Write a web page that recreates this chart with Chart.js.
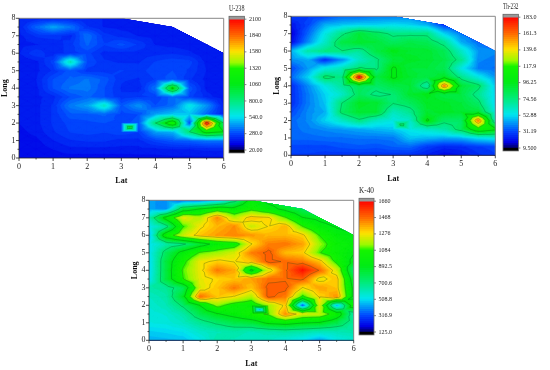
<!DOCTYPE html>
<html>
<head>
<meta charset="utf-8">
<script src="https://cdn.jsdelivr.net/npm/chart.js@4"></script>
<style>
    body { margin: 0; background: #fff; }
    canvas { position: absolute; }
</style>
</head>
<body>
<canvas id="u238Map"></canvas><canvas id="u238Bar"></canvas>
<canvas id="th232Map"></canvas><canvas id="th232Bar"></canvas>
<canvas id="k40Map"></canvas><canvas id="k40Bar"></canvas>
<script>
// Griglia di misura: colonne = Lat, righe = Long (dall'alto verso il basso)
const latValues = [0, 0.5, 1, 1.5, 2, 2.5, 3, 3.5, 4, 4.5, 5, 5.5, 6];
const longValues = [8, 7.5, 7, 6.5, 6, 5.5, 5, 4.5, 4, 3.5, 3, 2.5, 2, 1.5, 1, 0.5, 0];

// Bordo dell'area misurata
const hullLat = [0, 6, 6, 4.5, 3, 0];
const hullLong = [0, 0, 6, 7.5, 8, 8];

// Punto extra fuori griglia
const spotLat = 3.25;
const spotLong = 1.75;

const u238Ticks = [20, 280, 540, 800, 1060, 1320, 1580, 1840, 2100];
const u238Labels = ['20.00', '280.0', '540.0', '800.0', '1060', '1320', '1580', '1840', '2100'];
const u238Spot = 1000;
const u238Grid = [
    [180, 180, 180, 180, 180, 180, 180, 180, 170, 170, 150, 150, 150],
    [180, 320, 430, 350, 220, 180, 170, 170, 170, 170, 150, 150, 150],
    [170, 220, 230, 200, 340, 230, 200, 180, 170, 170, 160, 150, 150],
    [170, 180, 190, 230, 320, 250, 290, 240, 180, 170, 160, 150, 150],
    [180, 240, 190, 230, 260, 200, 200, 200, 200, 210, 190, 150, 150],
    [150, 170, 260, 640, 280, 220, 210, 210, 250, 270, 260, 170, 150],
    [150, 170, 220, 300, 230, 230, 250, 230, 270, 280, 240, 180, 170],
    [150, 180, 280, 320, 350, 300, 220, 210, 250, 300, 220, 170, 150],
    [150, 170, 280, 350, 360, 280, 210, 190, 350, 1100, 300, 170, 150],
    [150, 170, 200, 280, 320, 280, 220, 240, 250, 330, 260, 200, 150],
    [150, 170, 220, 360, 420, 620, 300, 400, 280, 330, 560, 400, 180],
    [150, 170, 220, 300, 300, 320, 260, 280, 420, 480, 480, 320, 170],
    [150, 170, 220, 260, 270, 280, 270, 290, 800, 1250, 280, 2000, 800],
    [140, 160, 210, 250, 260, 250, 270, 250, 420, 450, 800, 1150, 1050],
    [130, 140, 180, 210, 220, 220, 200, 200, 260, 300, 320, 350, 350],
    [120, 130, 150, 170, 170, 170, 170, 170, 170, 180, 180, 190, 190],
    [120, 120, 130, 130, 130, 130, 130, 135, 135, 140, 140, 140, 140]
];

const th232Ticks = [9.5, 31.19, 52.88, 74.56, 96.25, 117.9, 139.6, 161.3, 183];
const th232Labels = ['9.500', '31.19', '52.88', '74.56', '96.25', '117.9', '139.6', '161.3', '183.0'];
const th232Spot = 80;
const th232Grid = [
    [28, 28, 30, 35, 35, 38, 38, 40, 35, 30, 28, 28, 28],
    [20, 30, 45, 48, 50, 50, 52, 50, 45, 28, 30, 32, 30],
    [15, 35, 55, 72, 88, 80, 72, 72, 72, 50, 38, 36, 34],
    [18, 40, 60, 85, 90, 88, 80, 85, 82, 70, 45, 36, 34],
    [45, 65, 72, 74, 68, 85, 95, 90, 90, 82, 60, 42, 40],
    [40, 45, 25, 40, 60, 72, 88, 92, 90, 85, 70, 40, 38],
    [30, 42, 55, 62, 76, 72, 98, 88, 88, 82, 55, 38, 36],
    [35, 50, 78, 72, 178, 85, 98, 90, 85, 92, 70, 55, 42],
    [25, 40, 55, 68, 82, 78, 85, 88, 65, 155, 88, 78, 48],
    [25, 38, 50, 60, 80, 72, 75, 90, 95, 85, 85, 70, 50],
    [25, 38, 48, 75, 92, 90, 75, 80, 92, 92, 88, 78, 50],
    [30, 40, 45, 78, 90, 88, 62, 70, 90, 92, 90, 88, 55],
    [35, 40, 50, 60, 72, 60, 55, 60, 98, 78, 78, 155, 62],
    [35, 38, 40, 42, 44, 46, 48, 55, 60, 65, 80, 110, 100],
    [35, 35, 36, 36, 37, 37, 38, 48, 46, 44, 45, 52, 55],
    [30, 30, 30, 32, 33, 32, 34, 35, 28, 24, 25, 28, 30],
    [28, 28, 27, 26, 26, 26, 26, 25, 22, 18, 20, 25, 28]
];

const k40Ticks = [125, 316.9, 508.8, 700.6, 892.5, 1084, 1276, 1468, 1660];
const k40Labels = ['125.0', '316.9', '508.8', '700.6', '892.5', '1084', '1276', '1468', '1660'];
const k40Spot = 350;
const k40Grid = [
    [420, 400, 350, 350, 430, 650, 950, 850, 800, 760, 760, 760, 760],
    [420, 400, 800, 900, 1000, 950, 1050, 950, 850, 760, 720, 760, 760],
    [600, 950, 1240, 1180, 1400, 1180, 1320, 1290, 1100, 900, 850, 800, 780],
    [500, 650, 1080, 1260, 1340, 1400, 1200, 1280, 1340, 1090, 950, 880, 850],
    [450, 1000, 1200, 1320, 1380, 1420, 1380, 1340, 1340, 1300, 1080, 950, 900],
    [500, 620, 680, 820, 950, 1000, 1270, 1420, 1440, 1370, 1150, 1000, 950],
    [500, 750, 950, 1100, 1150, 1220, 1420, 1490, 1330, 1300, 1090, 1000, 900],
    [480, 800, 1050, 1250, 1300, 1270, 1320, 1490, 1460, 1430, 1320, 1050, 850],
    [480, 800, 1100, 1250, 1430, 1360, 850, 1220, 1460, 1620, 1460, 1220, 700],
    [500, 800, 1080, 1240, 1290, 1320, 1370, 1450, 1460, 1480, 1240, 1320, 800],
    [620, 650, 760, 1220, 1320, 1430, 1320, 1490, 1490, 1270, 1370, 1320, 850],
    [580, 620, 850, 1440, 1320, 1270, 1170, 1490, 1430, 1060, 1290, 1390, 850],
    [560, 600, 720, 900, 1130, 1020, 980, 1150, 1300, 300, 1220, 420, 1000],
    [540, 560, 620, 780, 880, 950, 1040, 1100, 1390, 1210, 1190, 1000, 620],
    [530, 540, 580, 650, 720, 780, 810, 920, 950, 900, 880, 780, 640],
    [480, 490, 510, 570, 600, 620, 600, 620, 640, 620, 590, 600, 620],
    [440, 450, 460, 520, 620, 600, 580, 580, 540, 500, 420, 520, 560]
];

// Scala colori della barra (frazione, r, g, b)
const colorStops = [
    [0, 0, 0, 110], [0.04, 0, 0, 230], [0.125, 0, 75, 255], [0.25, 0, 230, 240],
    [0.375, 0, 235, 120], [0.5, 0, 235, 20], [0.62, 20, 245, 0], [0.66, 150, 250, 0],
    [0.75, 255, 225, 0], [0.875, 255, 100, 0], [1, 255, 0, 0]
];
const levelCount = 64;

function colorAt(t) {
    for (let i = 1; i < colorStops.length; i++) {
        const a = colorStops[i - 1], b = colorStops[i];
        if (t <= b[0]) {
            const f = (t - a[0]) / (b[0] - a[0]);
            return `rgb(${a[1] + (b[1] - a[1]) * f}, ${a[2] + (b[2] - a[2]) * f}, ${a[3] + (b[3] - a[3]) * f})`;
        }
    }
    return 'rgb(255, 0, 0)';
}

// Parte del triangolo con valore >= level
function clipTriangle(tri, level) {
    const out = [];
    for (let i = 0; i < 3; i++) {
        const p = tri[i], q = tri[(i + 1) % 3];
        if (p.v >= level) out.push(p);
        if ((p.v >= level) !== (q.v >= level)) {
            const f = (level - p.v) / (q.v - p.v);
            out.push({ x: p.x + (q.x - p.x) * f, y: p.y + (q.y - p.y) * f, v: level });
        }
    }
    return out;
}

function buildTriangles(chart, grid, spot) {
    const sx = chart.scales.x, sy = chart.scales.y;
    const node = (lat, lon, v) => ({ x: sx.getPixelForValue(lat), y: sy.getPixelForValue(lon), v: v });
    const tris = [];
    for (let r = 0; r < longValues.length - 1; r++) {
        for (let c = 0; c < latValues.length - 1; c++) {
            const a = node(latValues[c], longValues[r], grid[r][c]);
            const b = node(latValues[c + 1], longValues[r], grid[r][c + 1]);
            const d = node(latValues[c + 1], longValues[r + 1], grid[r + 1][c + 1]);
            const e = node(latValues[c], longValues[r + 1], grid[r + 1][c]);
            const midLat = (latValues[c] + latValues[c + 1]) / 2;
            const midLong = (longValues[r] + longValues[r + 1]) / 2;
            const isSpot = midLat === spotLat && midLong === spotLong;
            const m = node(midLat, midLong, isSpot ? spot : (a.v + b.v + d.v + e.v) / 4);
            tris.push([a, b, m], [b, d, m], [d, e, m], [e, a, m]);
        }
    }
    return tris;
}

function contourPlugin(grid, ticks, spot) {
    return {
        id: 'contour',
        beforeDatasetsDraw(chart) {
            const ctx = chart.ctx, sx = chart.scales.x, sy = chart.scales.y;
            const lo = ticks[0], hi = ticks[ticks.length - 1];
            const tris = buildTriangles(chart, grid, spot);
            const addPoly = poly => {
                if (poly.length < 3) return;
                ctx.moveTo(poly[0].x, poly[0].y);
                poly.slice(1).forEach(p => ctx.lineTo(p.x, p.y));
                ctx.closePath();
            };

            ctx.save();
            ctx.beginPath();
            hullLat.forEach((lat, i) => ctx.lineTo(sx.getPixelForValue(lat), sy.getPixelForValue(hullLong[i])));
            ctx.closePath();
            ctx.clip();

            ctx.lineWidth = 0.5;
            for (let i = 0; i < levelCount; i++) {
                const level = i === 0 ? -1e9 : lo + (hi - lo) * i / levelCount;
                ctx.fillStyle = ctx.strokeStyle = colorAt((i + 0.5) / levelCount);
                ctx.beginPath();
                tris.forEach(t => addPoly(clipTriangle(t, level)));
                ctx.fill();
                ctx.stroke();
            }

            // Isolinee sui valori della barra
            ctx.strokeStyle = 'rgba(0, 70, 30, 0.45)';
            ctx.lineWidth = 0.6;
            ctx.beginPath();
            ticks.slice(3, 8).forEach(level => {
                tris.forEach(t => {
                    const cut = [];
                    for (let i = 0; i < 3; i++) {
                        const p = t[i], q = t[(i + 1) % 3];
                        if ((p.v >= level) !== (q.v >= level)) {
                            const f = (level - p.v) / (q.v - p.v);
                            cut.push([p.x + (q.x - p.x) * f, p.y + (q.y - p.y) * f]);
                        }
                    }
                    if (cut.length === 2) {
                        ctx.moveTo(cut[0][0], cut[0][1]);
                        ctx.lineTo(cut[1][0], cut[1][1]);
                    }
                });
            });
            ctx.stroke();
            ctx.restore();
        },
        afterDatasetsDraw(chart) {
            const ctx = chart.ctx, a = chart.chartArea, sx = chart.scales.x, sy = chart.scales.y;
            ctx.save();
            ctx.strokeStyle = '#888';
            ctx.lineWidth = 1;
            ctx.beginPath();
            ctx.moveTo(a.left, a.top);
            ctx.lineTo(a.right, a.top);
            ctx.lineTo(a.right, a.bottom);
            ctx.stroke();

            ctx.strokeStyle = '#222';
            ctx.lineWidth = 0.8;
            ctx.beginPath();
            ctx.moveTo(a.left, a.top);
            ctx.lineTo(a.left, a.bottom);
            ctx.lineTo(a.right, a.bottom);
            for (let i = 0; i <= 12; i++) {
                const px = sx.getPixelForValue(i / 2);
                ctx.moveTo(px, a.bottom);
                ctx.lineTo(px, a.bottom + (i % 2 ? 1.5 : 3));
            }
            for (let i = 0; i <= 16; i++) {
                const py = sy.getPixelForValue(i / 2);
                ctx.moveTo(a.left, py);
                ctx.lineTo(a.left - (i % 2 ? 1.5 : 3), py);
            }
            ctx.stroke();
            ctx.restore();
        }
    };
}

function drawMap(id, box, grid, ticks, spot) {
    const canvas = document.getElementById(id);
    const left = box.x0 - 19, top = Math.floor(box.top) - 6;
    const width = Math.ceil(box.x1 - left) + 8, height = Math.ceil(box.bottom - top) + 28;
    canvas.style.left = left + 'px';
    canvas.style.top = top + 'px';
    canvas.width = width;
    canvas.height = height;

    const points = [];
    longValues.forEach((lon, r) => latValues.forEach((lat, c) => points.push({ x: lat, y: lon, v: grid[r][c] })));
    const tickFont = { family: 'Liberation Serif', size: 8 };
    const titleFont = { family: 'Liberation Serif', size: 8, weight: 'bold' };

    new Chart(canvas, {
        type: 'scatter',
        data: { datasets: [{ data: points, pointRadius: 0 }] },
        options: {
            responsive: false,
            animation: false,
            layout: {
                autoPadding: false,
                padding: { top: box.top - top, right: width - (box.x1 - left), left: 0, bottom: 0 }
            },
            plugins: { legend: { display: false }, tooltip: { enabled: false } },
            scales: {
                x: {
                    min: 0, max: 6,
                    grid: { display: false, drawTicks: false },
                    border: { display: false },
                    ticks: { stepSize: 1, font: tickFont, color: '#222', padding: 4, maxRotation: 0 },
                    title: { display: true, text: 'Lat', font: titleFont, color: '#111', padding: { top: 4, bottom: 0 } },
                    afterFit: s => { s.height = height - (box.bottom - top); }
                },
                y: {
                    min: 0, max: 8,
                    grid: { display: false, drawTicks: false },
                    border: { display: false },
                    ticks: { stepSize: 1, font: tickFont, color: '#222', padding: 3.5 },
                    title: { display: true, text: 'Long', font: titleFont, color: '#111', padding: { top: 0, bottom: 0 } },
                    afterFit: s => { s.width = 19; }
                }
            }
        },
        plugins: [contourPlugin(grid, ticks, spot)]
    });
}

function drawColorBar(id, box, name, ticks, labels) {
    const canvas = document.getElementById(id);
    const left = box.x0 - 8, top = Math.floor(box.top) - 14;
    const width = 52, height = Math.ceil(box.bottom - top) + 2;
    canvas.style.left = left + 'px';
    canvas.style.top = top + 'px';
    canvas.width = width;
    canvas.height = height;

    const lo = ticks[0], hi = ticks[ticks.length - 1];
    const extra = (hi - lo) * 0.022;
    const datasets = [
        { data: [[lo - extra, lo]], backgroundColor: '#000' },
        { data: [[hi, hi + extra]], backgroundColor: '#999' }
    ];
    for (let i = 0; i < levelCount; i++) {
        datasets.push({
            data: [[lo + (hi - lo) * i / levelCount, lo + (hi - lo) * (i + 1.15) / levelCount]],
            backgroundColor: colorAt((i + 0.5) / levelCount)
        });
    }

    new Chart(canvas, {
        type: 'bar',
        data: { labels: [name], datasets: datasets },
        options: {
            responsive: false,
            animation: false,
            layout: {
                autoPadding: false,
                padding: { top: 0, left: 8, right: width - 8 - (box.x1 - box.x0) - 26, bottom: height - (box.bottom - top) }
            },
            datasets: { bar: { barPercentage: 1, categoryPercentage: 1, grouped: false, borderWidth: 0 } },
            plugins: {
                legend: { display: false },
                tooltip: { enabled: false },
                title: {
                    display: true, text: name, fullSize: false, color: '#222',
                    font: { family: 'Liberation Serif', size: 7.5, weight: 'normal' },
                    padding: { top: 3, bottom: box.top - top - 3 - 9 }
                }
            },
            scales: {
                x: { display: false },
                y: {
                    position: 'right',
                    min: lo - extra, max: hi + extra,
                    grid: { display: false, drawTicks: false },
                    border: { display: false },
                    afterBuildTicks: s => { s.ticks = ticks.map(v => ({ value: v })); },
                    ticks: {
                        font: { family: 'Liberation Serif', size: 6 }, color: '#222', padding: 4.5,
                        callback: (v, i) => labels[i]
                    },
                    afterFit: s => { s.width = 26; }
                }
            }
        },
        plugins: [{
            id: 'barFrame',
            afterDatasetsDraw(chart) {
                const ctx = chart.ctx, a = chart.chartArea, sy = chart.scales.y;
                ctx.save();
                ctx.strokeStyle = '#666';
                ctx.lineWidth = 0.8;
                ctx.strokeRect(a.left, a.top, a.right - a.left, a.bottom - a.top);
                ctx.beginPath();
                ticks.forEach(v => {
                    const py = sy.getPixelForValue(v);
                    ctx.moveTo(a.right, py);
                    ctx.lineTo(a.right + 2, py);
                });
                ctx.stroke();
                ctx.restore();
            }
        }]
    });
}

document.addEventListener('DOMContentLoaded', () => {
    drawMap('u238Map', { x0: 19, x1: 223.7, top: 16.3, bottom: 158 }, u238Grid, u238Ticks, u238Spot);
    drawColorBar('u238Bar', { x0: 229.3, x1: 244.7, top: 16.3, bottom: 158.7 }, 'U-238', u238Ticks, u238Labels);
    drawMap('th232Map', { x0: 291, x1: 495.3, top: 14.3, bottom: 155.3 }, th232Grid, th232Ticks, th232Spot);
    drawColorBar('th232Bar', { x0: 503.3, x1: 518.7, top: 14.3, bottom: 156.3 }, 'Th-232', th232Ticks, th232Labels);
    drawMap('k40Map', { x0: 149, x1: 353.7, top: 198.3, bottom: 340.3 }, k40Grid, k40Ticks, k40Spot);
    drawColorBar('k40Bar', { x0: 359.3, x1: 374.3, top: 198.3, bottom: 340.7 }, 'K-40', k40Ticks, k40Labels);
});
</script>
</body>
</html>
